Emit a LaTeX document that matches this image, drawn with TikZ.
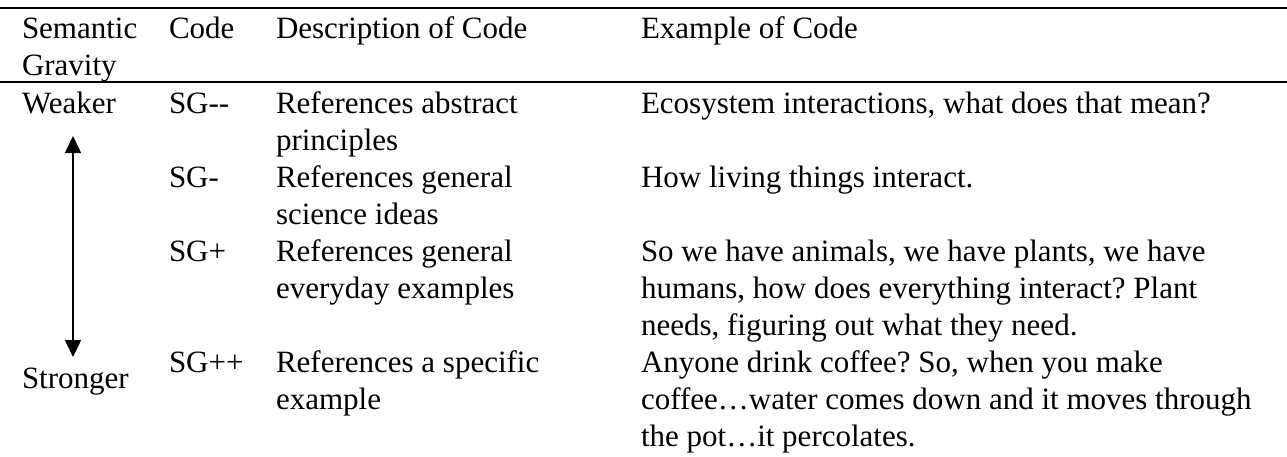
\documentclass[tikz,border=0pt]{standalone}
\usepackage{fontspec}
\setmainfont{Liberation Serif}
\usetikzlibrary{arrows.meta}
\frenchspacing
\begin{document}
\begin{tikzpicture}[x=0.5pt,y=-0.5pt,
  cell/.style={anchor=base west,inner sep=0pt,outer sep=0pt,
    font=\fontsize{15.5pt}{18.5pt}\selectfont\frenchspacing},
  rule/.style={line width=1pt},
  scale arrow/.style={line width=0.8pt,
    {Triangle[length=8.5pt,width=8pt]}-{Triangle[length=8.5pt,width=8pt]}}]
\useasboundingbox (0,0) rectangle (1287,456);

% horizontal rules
\coordinate (r1l) at (0,7.5);   \coordinate (r1r) at (1287,7.5);
\coordinate (r2l) at (0,82);    \coordinate (r2r) at (1287,82);
\draw[rule] (r1l) -- (r1r);
\draw[rule] (r2l) -- (r2r);

% header
\node[cell] (h1a) at (22,38) {Semantic};
\node[cell] (h1b) at (22,75) {Gravity};
\node[cell] (h2)  at (169,38) {Code};
\node[cell] (h3)  at (276,38) {Description of Code};
\node[cell] (h4)  at (641,38) {Example of Code};

% scale labels
\node[cell] (weak)   at (22,113) {Weaker};
\node[cell] (strong) at (22,388) {Stronger};
\coordinate (atop) at (73,136);
\coordinate (abot) at (73,357);
\draw[scale arrow] (atop) -- (abot);

% row SG--
\node[cell] (c1)  at (169,113) {SG-{}-};
\node[cell] (d1a) at (276,113) {References abstract};
\node[cell] (d1b) at (276,150) {principles};
\node[cell] (e1a) at (641,113) {Ecosystem interactions, what does that mean?};

% row SG-
\node[cell] (c2)  at (169,187) {SG-};
\node[cell] (d2a) at (276,187) {References general};
\node[cell] (d2b) at (276,224) {science ideas};
\node[cell] (e2a) at (641,187) {How living things interact.};

% row SG+
\node[cell] (c3)  at (169,261) {SG+};
\node[cell] (d3a) at (276,261) {References general};
\node[cell] (d3b) at (276,298) {everyday examples};
\node[cell] (e3a) at (641,261) {So we have animals, we have plants, we have};
\node[cell] (e3b) at (641,298) {humans, how does everything interact? Plant};
\node[cell] (e3c) at (641,335) {needs, figuring out what they need.};

% row SG++
\node[cell] (c4)  at (169,372) {SG++};
\node[cell] (d4a) at (276,372) {References a specific};
\node[cell] (d4b) at (276,409) {example};
\node[cell] (e4a) at (641,372) {Anyone drink coffee? So, when you make};
\node[cell] (e4b) at (641,409) {coffee…water comes down and it moves through};
\node[cell] (e4c) at (641,446) {the pot…it percolates.};
\end{tikzpicture}
\end{document}
